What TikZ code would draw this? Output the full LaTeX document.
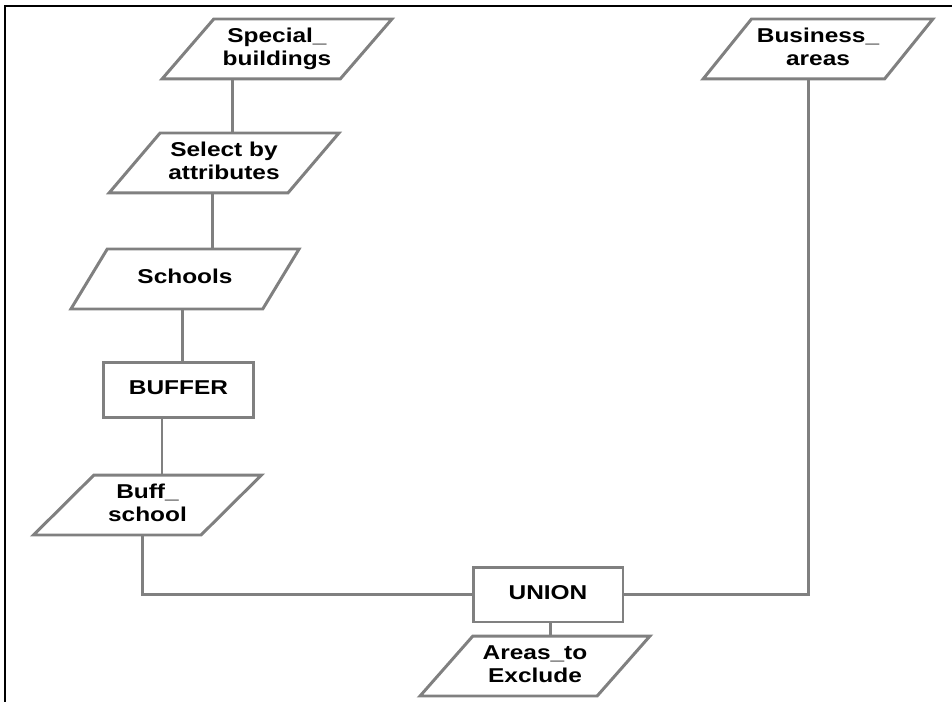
\documentclass[tikz,border=0pt]{standalone}
\usepackage{fontspec}
\setmainfont{Liberation Sans}
\usepackage{graphicx}
\usetikzlibrary{shapes.geometric, positioning}

\definecolor{linegray}{RGB}{128,128,128}
\newcommand{\lbl}[1]{\scalebox{1.22}[1]{\begin{tabular}{@{}c@{}}#1\end{tabular}}}

\tikzset{
    datanode/.style={trapezium, trapezium left angle=46, trapezium right angle=134,
        trapezium stretches=true, draw=linegray, line width=1.7pt, fill=white,
        minimum width=4.6cm, minimum height=1.2cm, inner sep=0pt,
        font=\bfseries\fontsize{11.4}{13.1}\selectfont},
    toolnode/.style={rectangle, draw=linegray, line width=1.7pt, fill=white,
        minimum width=3cm, minimum height=1.1cm, inner sep=0pt,
        font=\bfseries\fontsize{11.4}{13.1}\selectfont},
    link/.style={draw=linegray, line width=1.7pt}
}

\begin{document}
\begin{tikzpicture}[x=0.02cm, y=-0.02cm]
    \useasboundingbox (0,0) rectangle (952,702);
    % frame
    \draw[line width=1.1pt] (5,702) -- (5,6) -- (952,6);

    % inputs
    \node[datanode] (special) at (277,49) {\lbl{Special\_\\buildings}};
    \node[datanode] (business) at (818,49) {\lbl{Business\_\\areas}};

    % school branch
    \node[datanode] (select) at (224,163) {\lbl{Select by\\attributes}};
    \node[datanode] (schools) at (185,279) {\lbl{Schools}};
    \node[toolnode] (buffer) at (178.5,390) {\lbl{BUFFER}};
    \node[datanode] (buffschool) at (147.5,505) {\lbl{Buff\_\\school}};

    % union and result
    \node[toolnode] (union) at (548,594.5) {\lbl{UNION}};
    \node[datanode] (exclude) at (535,666) {\lbl{Areas\_to\\Exclude}};

    % connectors
    \draw[link] ([xshift=-0.9cm]special.south) -- ([xshift=-0.9cm]special.south |- select.north);
    \draw[link] ([xshift=-0.24cm]select.south) -- ([xshift=-0.24cm]select.south |- schools.north);
    \draw[link] ([xshift=-0.06cm]schools.south) -- ([xshift=-0.06cm]schools.south |- buffer.north);
    \draw[link] ([xshift=-0.33cm]buffer.south) -- ([xshift=-0.33cm]buffer.south |- buffschool.north);
    \draw[link] ([xshift=-0.11cm]buffschool.south) |- (union.west);
    \draw[link] (union.east) -| ([xshift=-0.2cm]business.south);
    \draw[link] ([xshift=0.04cm]union.south) -- ([xshift=0.04cm]union.south |- exclude.north);
\end{tikzpicture}
\end{document}
